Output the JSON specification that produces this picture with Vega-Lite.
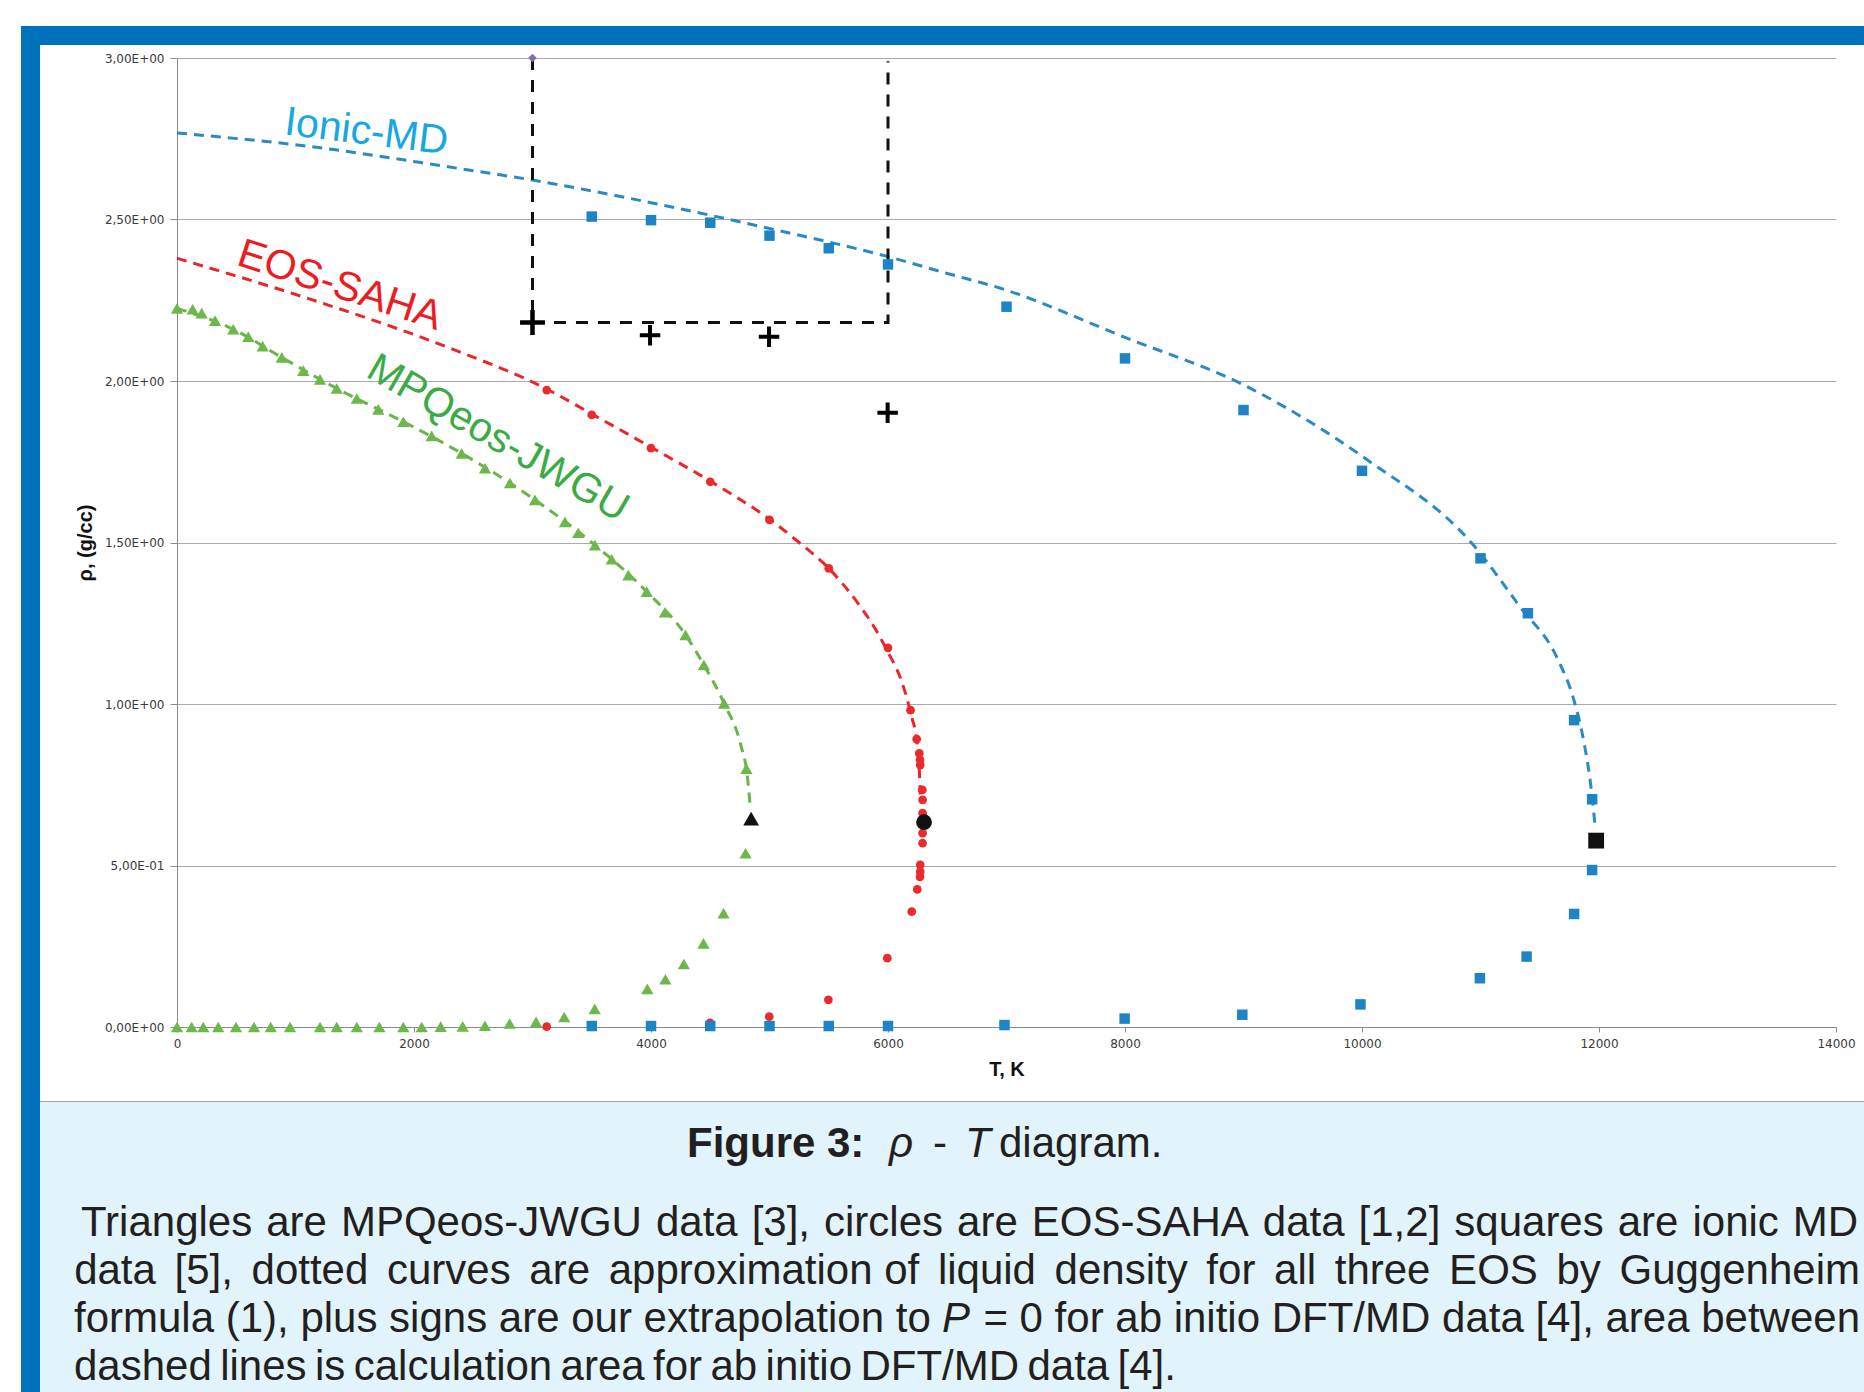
{
  "$schema": "https://vega.github.io/schema/vega-lite/v6.json",
  "background": "white",
  "padding": {"left": 21, "top": 26, "right": 0, "bottom": 0},
  "autosize": {"type": "pad"},
  "columns": 3,
  "spacing": 0,
  "bounds": "flush",
  "align": "each",
  "center": false,
  "config": {
    "view": {"stroke": null},
    "axis": {
      "labelFont": "DejaVu Sans", "labelFontSize": 12, "labelColor": "#3a3a3a",
      "domainColor": "#8a8a8a", "tickColor": "#8a8a8a", "gridColor": "#a9a9b1",
      "domainWidth": 1, "tickWidth": 1, "gridWidth": 1,
      "titleFont": "Liberation Sans", "titleFontSize": 20, "titleFontWeight": "bold", "titleColor": "#111111"
    }
  },
  "datasets": {
    "tri": [
      {"T":0,"rho":2.225},{"T":132,"rho":2.222},{"T":208,"rho":2.21},{"T":321,"rho":2.187},{"T":475,"rho":2.16},{"T":602,"rho":2.137},{"T":723,"rho":2.108},{"T":884,"rho":2.073},{"T":1066,"rho":2.032},{"T":1207,"rho":2.005},{"T":1348,"rho":1.977},{"T":1517,"rho":1.946},{"T":1699,"rho":1.912},{"T":1910,"rho":1.874},{"T":2149,"rho":1.83},{"T":2402,"rho":1.776},{"T":2599,"rho":1.73},{"T":2810,"rho":1.684},{"T":3021,"rho":1.632},{"T":3274,"rho":1.564},{"T":3386,"rho":1.53},{"T":3527,"rho":1.492},{"T":3668,"rho":1.448},{"T":3809,"rho":1.399},{"T":3964,"rho":1.348},{"T":4118,"rho":1.284},{"T":4291,"rho":1.214},{"T":4446,"rho":1.121},{"T":4617,"rho":1.002},{"T":4805,"rho":0.8},
      {"T":4798,"rho":0.538},{"T":4612,"rho":0.352},{"T":4443,"rho":0.259},{"T":4277,"rho":0.195},{"T":4121,"rho":0.148},{"T":3969,"rho":0.118},{"T":3525,"rho":0.056},{"T":3268,"rho":0.031},{"T":3030,"rho":0.016},{"T":2807,"rho":0.011},{"T":2599,"rho":0.004},{"T":2411,"rho":0.002},{"T":2225,"rho":0.001},{"T":2065,"rho":0},{"T":1910,"rho":0},{"T":1708,"rho":0},{"T":1517,"rho":0},{"T":1348,"rho":0},{"T":1207,"rho":0},{"T":954,"rho":0},{"T":791,"rho":0},{"T":650,"rho":0},{"T":498,"rho":0},{"T":348,"rho":0},{"T":222,"rho":0},{"T":124,"rho":0},{"T":0,"rho":0}
    ],
    "circ": [
      {"T":3120,"rho":1.972},{"T":3500,"rho":1.895},{"T":4000,"rho":1.792},{"T":4500,"rho":1.688},{"T":5000,"rho":1.57},{"T":5500,"rho":1.42},{"T":6000,"rho":1.174},{"T":6190,"rho":0.981},{"T":6242,"rho":0.891},{"T":6264,"rho":0.847},{"T":6270,"rho":0.827},{"T":6272,"rho":0.811},{"T":6290,"rho":0.734},{"T":6292,"rho":0.703},{"T":6292,"rho":0.662},
      {"T":6292,"rho":0.6},{"T":6292,"rho":0.569},{"T":6272,"rho":0.502},{"T":6272,"rho":0.481},{"T":6270,"rho":0.465},{"T":6247,"rho":0.426},{"T":6200,"rho":0.357},{"T":5994,"rho":0.213},{"T":5497,"rho":0.084},{"T":4998,"rho":0.032},{"T":4498,"rho":0.013},{"T":3120,"rho":0.001}
    ],
    "sq": [
      {"T":3500,"rho":2.509},{"T":4000,"rho":2.498},{"T":4500,"rho":2.49},{"T":5000,"rho":2.45},{"T":5500,"rho":2.411},{"T":6000,"rho":2.361},{"T":7000,"rho":2.23},{"T":8000,"rho":2.07},{"T":9000,"rho":1.91},{"T":10000,"rho":1.722},{"T":11000,"rho":1.451},{"T":11400,"rho":1.281},{"T":11790,"rho":0.95},{"T":11942,"rho":0.705},
      {"T":11942,"rho":0.486},{"T":11790,"rho":0.35},{"T":11389,"rho":0.218},{"T":10995,"rho":0.151},{"T":9987,"rho":0.07},{"T":8990,"rho":0.038},{"T":7997,"rho":0.026},{"T":6983,"rho":0.006},{"T":6000,"rho":0.003},{"T":5500,"rho":0.003},{"T":5000,"rho":0.003},{"T":4500,"rho":0.003},{"T":4000,"rho":0.003},{"T":3500,"rho":0.003}
    ],
    "curves": [
      {"eos":"Ionic-MD","T":0,"rho":2.768},{"eos":"Ionic-MD","T":1143,"rho":2.725},{"eos":"Ionic-MD","T":2273,"rho":2.664},{"eos":"Ionic-MD","T":3000,"rho":2.622},{"eos":"Ionic-MD","T":4000,"rho":2.552},{"eos":"Ionic-MD","T":5000,"rho":2.472},{"eos":"Ionic-MD","T":6000,"rho":2.385},{"eos":"Ionic-MD","T":6500,"rho":2.333},{"eos":"Ionic-MD","T":6950,"rho":2.287},{"eos":"Ionic-MD","T":8000,"rho":2.135},{"eos":"Ionic-MD","T":9000,"rho":1.988},{"eos":"Ionic-MD","T":10040,"rho":1.757},{"eos":"Ionic-MD","T":10940,"rho":1.492},{"eos":"Ionic-MD","T":11333,"rho":1.301},{"eos":"Ionic-MD","T":11650,"rho":1.14},{"eos":"Ionic-MD","T":11790,"rho":1.01},{"eos":"Ionic-MD","T":11875,"rho":0.878},{"eos":"Ionic-MD","T":11921,"rho":0.775},{"eos":"Ionic-MD","T":11945,"rho":0.703},{"eos":"Ionic-MD","T":11966,"rho":0.625},
      {"eos":"EOS-SAHA","T":0,"rho":2.38},{"eos":"EOS-SAHA","T":1143,"rho":2.251},{"eos":"EOS-SAHA","T":2273,"rho":2.106},{"eos":"EOS-SAHA","T":3120,"rho":1.975},{"eos":"EOS-SAHA","T":3500,"rho":1.898},{"eos":"EOS-SAHA","T":4000,"rho":1.795},{"eos":"EOS-SAHA","T":4500,"rho":1.69},{"eos":"EOS-SAHA","T":5000,"rho":1.572},{"eos":"EOS-SAHA","T":5250,"rho":1.5},{"eos":"EOS-SAHA","T":5500,"rho":1.42},{"eos":"EOS-SAHA","T":5750,"rho":1.31},{"eos":"EOS-SAHA","T":5900,"rho":1.228},{"eos":"EOS-SAHA","T":6000,"rho":1.16},{"eos":"EOS-SAHA","T":6100,"rho":1.085},{"eos":"EOS-SAHA","T":6158,"rho":1.02},{"eos":"EOS-SAHA","T":6200,"rho":0.96},{"eos":"EOS-SAHA","T":6242,"rho":0.889},{"eos":"EOS-SAHA","T":6264,"rho":0.8},{"eos":"EOS-SAHA","T":6272,"rho":0.72},
      {"eos":"MPQeos-JWGU","T":0,"rho":2.225},{"eos":"MPQeos-JWGU","T":475,"rho":2.16},{"eos":"MPQeos-JWGU","T":884,"rho":2.073},{"eos":"MPQeos-JWGU","T":1348,"rho":1.977},{"eos":"MPQeos-JWGU","T":1910,"rho":1.874},{"eos":"MPQeos-JWGU","T":2402,"rho":1.776},{"eos":"MPQeos-JWGU","T":3021,"rho":1.632},{"eos":"MPQeos-JWGU","T":3527,"rho":1.492},{"eos":"MPQeos-JWGU","T":3964,"rho":1.348},{"eos":"MPQeos-JWGU","T":4291,"rho":1.214},{"eos":"MPQeos-JWGU","T":4446,"rho":1.121},{"eos":"MPQeos-JWGU","T":4617,"rho":1.002},{"eos":"MPQeos-JWGU","T":4760,"rho":0.87},{"eos":"MPQeos-JWGU","T":4812,"rho":0.78},{"eos":"MPQeos-JWGU","T":4836,"rho":0.69}
    ],
    "crit": [
      {"eos":"MPQeos-JWGU","T":4845,"rho":0.645},{"eos":"EOS-SAHA","T":6304,"rho":0.634},{"eos":"Ionic-MD","T":11976,"rho":0.577}
    ],
    "box": [
      {"k":1,"T":3000,"rho":3.0},{"k":2,"T":3000,"rho":2.181},{"k":3,"T":6000,"rho":2.181},{"k":4,"T":6000,"rho":2.99}
    ],
    "caption": [
      {"line":0,"side":"left","piece":"fig","text":"Figure 3:"},
      {"line":0,"side":"left","piece":"rho","text":"ρ"},
      {"line":0,"side":"left","piece":"dash","text":"-"},
      {"line":0,"side":"left","piece":"T","text":"T"},
      {"line":0,"side":"left","piece":"diag","text":"diagram."},
      {"line":1,"side":"left","piece":"l1","text":"Triangles\u2004are\u2004MPQeos-JWGU\u2004data\u2004[3],\u2004circles\u2004are\u2004EOS-SAHA\u2004data\u2004[1,2]\u2004squares\u2004are\u2004ionic\u2004MD"},
      {"line":2,"side":"right","piece":"l2","text":"data \u2006[5], \u2006dotted \u2006curves \u2006are \u2006approximation of \u2006liquid \u2006density \u2006for \u2006all \u2006three \u2006EOS \u2006by \u2006Guggenheim"},
      {"line":3,"side":"left","piece":"l3a","text":"formula (1), plus signs are our extrapolation to"},
      {"line":3,"side":"left","piece":"l3p","text":"P"},
      {"line":3,"side":"right","piece":"l3b","text":"= 0 for ab initio DFT/MD data [4], area between"},
      {"line":4,"side":"left","piece":"l4","text":"dashed\u2009lines\u2009is\u2009calculation\u2009area\u2009for\u2009ab\u2009initio\u2009DFT/MD\u2009data\u2009[4]."}
    ]
  },
  "concat": [
    {"width": 19, "height": 19, "view": {"fill": "#0072bb", "stroke": null}, "data": {"values": [{}]}, "mark": {"type": "point", "opacity": 0}},
    {"width": 137, "height": 19, "view": {"fill": "#0072bb", "stroke": null}, "data": {"values": [{}]}, "mark": {"type": "point", "opacity": 0}},
    {"width": 1687, "height": 19, "view": {"fill": "#0072bb", "stroke": null}, "data": {"values": [{}]}, "mark": {"type": "point", "opacity": 0}},

    {"width": 19, "height": 13, "view": {"fill": "#0072bb", "stroke": null}, "data": {"values": [{}]}, "mark": {"type": "point", "opacity": 0}},
    {"width": 137, "height": 13, "data": {"values": [{}]}, "mark": {"type": "point", "opacity": 0}},
    {"width": 1687, "height": 13, "data": {"values": [{}]}, "mark": {"type": "point", "opacity": 0}},

    {"width": 19, "height": 969, "view": {"fill": "#0072bb", "stroke": null}, "data": {"values": [{}]}, "mark": {"type": "point", "opacity": 0}},
    {"width": 137, "height": 969, "data": {"values": [{}]}, "mark": {"type": "point", "opacity": 0}},
    {
      "width": 1659, "height": 969,
      "encoding": {
        "x": {"field": "T", "type": "quantitative", "scale": {"domain": [0, 14000], "nice": false, "zero": false},
          "axis": {"title": "T, K", "values": [0,2000,4000,6000,8000,10000,12000,14000], "format": "d", "grid": false, "labelFlush": false, "labelOverlap": false, "tickSize": 5, "labelPadding": 6, "titlePadding": 10}},
        "y": {"field": "rho", "type": "quantitative", "scale": {"domain": [0, 3], "nice": false, "zero": false},
          "axis": {"title": "ρ, (g/cc)", "values": [0,0.5,1,1.5,2,2.5,3], "grid": true, "labelOverlap": false,
            "labelExpr": "datum.value == 0.5 ? '5,00E-01' : replace(format(datum.value, '.2f'), '.', ',') + 'E+00'",
            "tickSize": 7, "labelPadding": 6, "titlePadding": 9}}
      },
      "layer": [
        {"data": {"name": "curves"}, "mark": {"type": "line", "strokeDash": [10, 7], "strokeWidth": 3, "interpolate": "monotone"},
          "encoding": {"color": {"field": "eos", "type": "nominal", "scale": {"domain": ["Ionic-MD","EOS-SAHA","MPQeos-JWGU"], "range": ["#2b8ac6","#e8262b","#6cb34a"]}, "legend": null}}},
        {"data": {"name": "box"}, "mark": {"type": "line", "color": "#111111", "strokeWidth": 3, "strokeDash": [12, 10]},
          "encoding": {"order": {"field": "k", "type": "quantitative"}}},
        {"data": {"name": "tri"}, "mark": {"type": "point", "shape": "triangle-up", "filled": true, "size": 150, "color": "#6cb84a", "opacity": 1}},
        {"data": {"name": "circ"}, "mark": {"type": "circle", "size": 76, "color": "#ea2a2d", "opacity": 1}},
        {"data": {"name": "sq"}, "mark": {"type": "square", "size": 110, "color": "#1e84c5", "opacity": 1}},
        {"data": {"name": "crit"}, "mark": {"type": "point", "filled": true, "size": 250, "color": "#111111", "opacity": 1},
          "encoding": {"shape": {"field": "eos", "type": "nominal", "scale": {"domain": ["MPQeos-JWGU","EOS-SAHA","Ionic-MD"], "range": ["triangle-up","circle","square"]}, "legend": null}}},
        {"data": {"values": [{"T": 3992, "rho": 2.142}, {"T": 4996, "rho": 2.137}, {"T": 5997, "rho": 1.902}]},
          "mark": {"type": "point", "shape": "M-1,0H1M0,-1V1", "filled": false, "size": 420, "strokeWidth": 4, "color": "#000000", "opacity": 1}},
        {"data": {"values": [{"T": 3000, "rho": 2.181}]},
          "mark": {"type": "point", "shape": "M-1,0H1M0,-1V1", "filled": false, "size": 620, "strokeWidth": 4.5, "color": "#000000", "opacity": 1}},
        {"data": {"values": [{"T": 3000, "rho": 3.0}]},
          "mark": {"type": "point", "shape": "diamond", "filled": true, "size": 75, "color": "#8470b0", "opacity": 1}},
        {"data": {"values": [{"label": "Ionic-MD", "T": 1586, "rho": 2.733}]},
          "mark": {"type": "text", "font": "Liberation Sans", "fontSize": 41, "angle": 7, "align": "center", "baseline": "alphabetic", "color": "#16a8e4"},
          "encoding": {"text": {"field": "label", "type": "nominal"}}},
        {"data": {"values": [{"label": "EOS-SAHA", "T": 1342, "rho": 2.259}]},
          "mark": {"type": "text", "font": "Liberation Sans", "fontSize": 41, "angle": 18, "align": "center", "baseline": "alphabetic", "color": "#ec1c24"},
          "encoding": {"text": {"field": "label", "type": "nominal"}}},
        {"data": {"values": [{"label": "MPQeos-JWGU", "T": 2656, "rho": 1.789}]},
          "mark": {"type": "text", "font": "Liberation Sans", "fontSize": 41, "angle": 30, "align": "center", "baseline": "alphabetic", "color": "#3aab45"},
          "encoding": {"text": {"field": "label", "type": "nominal"}}}
      ]
    },

    {"width": 19, "height": 74, "view": {"fill": "#0072bb", "stroke": null}, "data": {"values": [{}]}, "mark": {"type": "point", "opacity": 0}},
    {"width": 137, "height": 74, "data": {"values": [{}]}, "mark": {"type": "point", "opacity": 0}},
    {"width": 1687, "height": 74, "data": {"values": [{}]}, "mark": {"type": "point", "opacity": 0}},

    {"width": 19, "height": 1, "view": {"fill": "#0072bb", "stroke": null}, "data": {"values": [{}]}, "mark": {"type": "point", "opacity": 0}},
    {"width": 137, "height": 1, "view": {"fill": "#a3a3a3", "stroke": null}, "data": {"values": [{}]}, "mark": {"type": "point", "opacity": 0}},
    {"width": 1687, "height": 1, "view": {"fill": "#a3a3a3", "stroke": null}, "data": {"values": [{}]}, "mark": {"type": "point", "opacity": 0}},

    {"width": 19, "height": 290, "view": {"fill": "#0072bb", "stroke": null}, "data": {"values": [{}]}, "mark": {"type": "point", "opacity": 0}},
    {"width": 137, "height": 290, "view": {"fill": "#e1f3fb", "stroke": null}, "data": {"values": [{}]}, "mark": {"type": "point", "opacity": 0}},
    {
      "width": 1687, "height": 290,
      "view": {"fill": "#e1f3fb", "stroke": null},
      "data": {"name": "caption"},
      "encoding": {
        "x": {"field": "side", "type": "nominal", "scale": {"type": "point", "domain": ["left", "right"], "padding": 0}, "axis": null},
        "y": {"field": "line", "type": "quantitative", "scale": {"domain": [-1.5208, 4.5208], "reverse": true, "nice": false, "zero": false}, "axis": null},
        "text": {"field": "text", "type": "nominal"}
      },
      "layer": [
        {"transform": [{"filter": "datum.piece == 'l1'"}], "mark": {"type": "text", "align": "left", "baseline": "middle", "dx": -96, "font": "Liberation Sans", "fontSize": 42, "color": "#231f20"}},
        {"transform": [{"filter": "datum.piece == 'l2'"}], "mark": {"type": "text", "align": "right", "baseline": "middle", "dx": -4, "font": "Liberation Sans", "fontSize": 42, "color": "#231f20"}},
        {"transform": [{"filter": "datum.piece == 'l3a'"}], "mark": {"type": "text", "align": "left", "baseline": "middle", "dx": -103, "font": "Liberation Sans", "fontSize": 42, "color": "#231f20"}},
        {"transform": [{"filter": "datum.piece == 'l3p'"}], "mark": {"type": "text", "align": "left", "baseline": "middle", "dx": 765, "font": "Liberation Sans", "fontSize": 42, "fontStyle": "italic", "color": "#231f20"}},
        {"transform": [{"filter": "datum.piece == 'l3b'"}], "mark": {"type": "text", "align": "right", "baseline": "middle", "dx": -4, "font": "Liberation Sans", "fontSize": 42, "color": "#231f20"}},
        {"transform": [{"filter": "datum.piece == 'l4'"}], "mark": {"type": "text", "align": "left", "baseline": "middle", "dx": -103, "font": "Liberation Sans", "fontSize": 42, "color": "#231f20"}},
        {"transform": [{"filter": "datum.piece == 'fig'"}], "mark": {"type": "text", "align": "left", "baseline": "middle", "dx": 510, "dy": -31, "font": "Liberation Sans", "fontSize": 42, "fontWeight": "bold", "color": "#231f20"}},
        {"transform": [{"filter": "datum.piece == 'rho'"}], "mark": {"type": "text", "align": "left", "baseline": "middle", "dx": 712, "dy": -31, "font": "Liberation Sans", "fontSize": 42, "fontStyle": "italic", "color": "#231f20"}},
        {"transform": [{"filter": "datum.piece == 'dash'"}], "mark": {"type": "text", "align": "left", "baseline": "middle", "dx": 756, "dy": -31, "font": "Liberation Sans", "fontSize": 42, "color": "#231f20"}},
        {"transform": [{"filter": "datum.piece == 'T'"}], "mark": {"type": "text", "align": "left", "baseline": "middle", "dx": 788, "dy": -31, "font": "Liberation Sans", "fontSize": 42, "fontStyle": "italic", "color": "#231f20"}},
        {"transform": [{"filter": "datum.piece == 'diag'"}], "mark": {"type": "text", "align": "left", "baseline": "middle", "dx": 822, "dy": -31, "font": "Liberation Sans", "fontSize": 42, "color": "#231f20"}}
      ]
    }
  ]
}
